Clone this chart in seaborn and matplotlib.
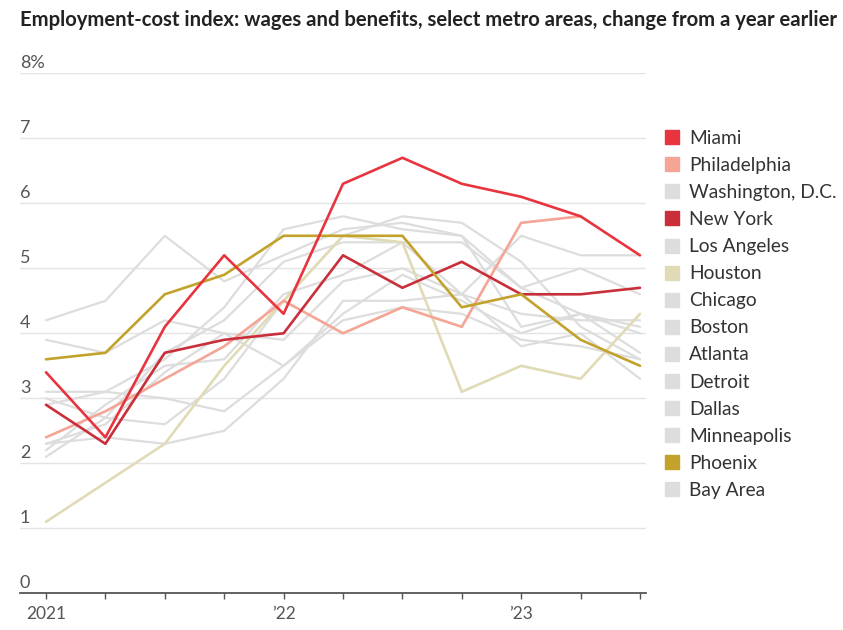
import numpy as np
import pandas as pd
import matplotlib
matplotlib.use("Agg")
import matplotlib.pyplot as plt
from matplotlib.lines import Line2D
import seaborn as sns

quarters = ["2021Q1", "2021Q2", "2021Q3", "2021Q4", "2022Q1", "2022Q2",
            "2022Q3", "2022Q4", "2023Q1", "2023Q2", "2023Q3"]
year_ticks = {0: "2021", 4: "\u201922", 8: "\u201923"}

miami        = [3.4, 2.4, 4.1, 5.2, 4.3, 6.3, 6.7, 6.3, 6.1, 5.8, 5.2]
philadelphia = [2.4, 2.8, 3.3, 3.8, 4.5, 4.0, 4.4, 4.1, 5.7, 5.8, np.nan]
washington   = [4.2, 4.5, 5.5, 4.8, 5.2, 5.6, 5.7, 5.5, 4.7, 4.3, 4.0]
new_york     = [2.9, 2.3, 3.7, 3.9, 4.0, 5.2, 4.7, 5.1, 4.6, 4.6, 4.7]
los_angeles  = [3.9, 3.7, 4.2, 4.0, 3.9, 4.8, 5.0, 4.6, 5.5, 5.2, 5.2]
houston      = [1.1, 1.7, 2.3, 3.5, 4.5, 5.5, 5.4, 3.1, 3.5, 3.3, 4.3]
chicago      = [3.1, 3.1, 3.0, 2.8, 3.5, 4.3, 4.9, 4.5, 4.0, 4.3, 4.1]
boston       = [2.9, 3.1, 3.6, 4.4, 5.6, 5.8, 5.6, 5.5, 4.1, 4.3, 3.7]
atlanta      = [3.0, 2.7, 2.6, 3.3, 4.5, 5.5, 5.8, 5.7, 5.1, 4.1, 3.6]
detroit      = [2.3, 2.4, 2.3, 2.5, 3.3, 4.5, 4.5, 4.6, 4.3, 4.2, 4.2]
dallas       = [2.2, 2.9, 3.5, 3.6, 4.6, 4.9, 5.4, 4.6, 3.8, 4.0, 3.3]
minneapolis  = [2.1, 2.7, 3.7, 4.2, 5.1, 5.4, 5.4, 5.4, 4.7, 5.0, 4.6]
phoenix      = [3.6, 3.7, 4.6, 4.9, 5.5, 5.5, 5.5, 4.4, 4.6, 3.9, 3.5]
bay_area     = [2.3, 2.6, 3.4, 4.0, 3.5, 4.2, 4.4, 4.3, 3.9, 3.8, 3.6]

cities = ["Miami", "Philadelphia", "Washington, D.C.", "New York", "Los Angeles",
          "Houston", "Chicago", "Boston", "Atlanta", "Detroit", "Dallas",
          "Minneapolis", "Phoenix", "Bay Area"]
series = [miami, philadelphia, washington, new_york, los_angeles, houston,
          chicago, boston, atlanta, detroit, dallas, minneapolis, phoenix, bay_area]

GRAY = "#dddddd"
colors = {
    "Miami": "#e8343f",
    "Philadelphia": "#f5a595",
    "New York": "#c92f3b",
    "Houston": "#e0dbb6",
    "Phoenix": "#c2a22b",
}
palette = {c: colors.get(c, GRAY) for c in cities}

rows = []
for c, vals in zip(cities, series):
    for i, v in enumerate(vals):
        rows.append({"city": c, "q": i, "value": v})
df = pd.DataFrame(rows)

sns.set_theme(style="white")
plt.rcParams["font.family"] = ["Lato", "DejaVu Sans"]

fig = plt.figure(figsize=(8.43, 6.30), dpi=100)
ax = fig.add_axes([20 / 843, 1 - 593.3 / 630, (646 - 20) / 843, (593.3 - 73.3) / 630])

gray_cities = [c for c in cities if c not in colors]
hl_order = ["Houston", "Philadelphia", "New York", "Phoenix", "Miami"]

sns.lineplot(data=df[df.city.isin(gray_cities)], x="q", y="value", hue="city",
             hue_order=gray_cities, palette=palette, legend=False, ax=ax,
             linewidth=1.6)
sns.lineplot(data=df[df.city.isin(hl_order)], x="q", y="value", hue="city",
             hue_order=hl_order, palette=palette, legend=False, ax=ax,
             linewidth=1.9)

ax.set_ylim(0, 8)
ax.set_xlim(-26 / 59.4, 10 + 6 / 59.4)
ax.set_xlabel("")
ax.set_ylabel("")

for s in ["top", "right", "left"]:
    ax.spines[s].set_visible(False)
ax.spines["bottom"].set_color("#555555")
ax.spines["bottom"].set_linewidth(1.3)

for yv in range(1, 9):
    ax.axhline(yv, color="#e4e4e4", lw=1.0, zorder=0)

ax.set_yticks([])
for yv in range(0, 9):
    lab = f"{yv}%" if yv == 8 else f"{yv}"
    ax.annotate(lab, xy=(0, yv), xycoords=ax.get_yaxis_transform(),
                xytext=(0, 2), textcoords="offset points",
                ha="left", va="bottom", fontsize=13, color="#555555")

ax.set_xticks(range(len(quarters)))
ax.set_xticklabels([year_ticks.get(i, "") for i in range(len(quarters))],
                   fontsize=12.5, color="#555555")
ax.tick_params(axis="x", direction="out", length=4, width=1, color="#555555",
               pad=5, bottom=True)

handles = [Line2D([0], [0], marker="s", linestyle="none", markersize=9.5,
                  markerfacecolor=palette[c], markeredgecolor=palette[c])
           for c in cities]
leg = ax.legend(handles, cities, loc="upper left", bbox_to_anchor=(1.028, 0.891),
                frameon=False, fontsize=13.8, labelspacing=0.525, handlelength=0.85,
                handletextpad=0.5, borderaxespad=0, borderpad=0)
for t in leg.get_texts():
    t.set_color("#333333")

title = fig.text(20 / 843, 1 - 10 / 630,
                 "Employment-cost index: wages and benefits, select metro areas, change from a year earlier",
                 ha="left", va="top", fontsize=13, fontweight="bold", color="#222222")
fig.canvas.draw()
w = title.get_window_extent().width
title.set_fontsize(13 * 818 / w)

fig.savefig("out.png", dpi=100)
